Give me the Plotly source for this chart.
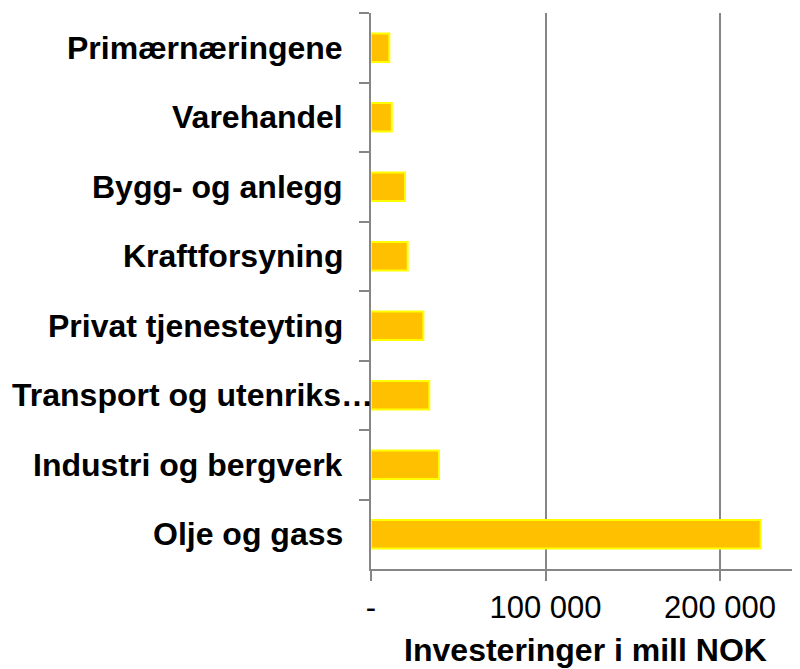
import plotly.graph_objects as go

categories = [
    "Primærnæringene",
    "Varehandel",
    "Bygg- og anlegg",
    "Kraftforsyning",
    "Privat tjenesteyting",
    "Transport og utenriks…",
    "Industri og bergverk",
    "Olje og gass",
]
values = [10500, 11900, 19500, 21000, 30000, 33400, 39000, 223300]
x_tickvals = [0, 100000, 200000]
x_ticktext = ["-", "100 000", "200 000"]
x_title = "Investeringer i mill NOK"

FONT = "Liberation Sans, Arial, sans-serif"
GRAY = "#868686"

fig = go.Figure()
fig.add_trace(go.Bar(
    y=categories,
    x=values,
    orientation="h",
    marker=dict(color="#FFC000", line=dict(color="#FFFF00", width=2)),
    width=0.41,
))

annotations = []
for c in categories:
    long = c.endswith("…")
    annotations.append(dict(
        x=0, xref="paper", y=c, yref="y",
        text="<b>%s</b>" % c, showarrow=False,
        xanchor="right", yanchor="middle",
        xshift=4 if long else -26,
        font=dict(family=FONT, size=32, color="black"),
    ))

# page body has an 8px default margin, so the figure is offset by 8px
fig.update_layout(
    width=792, height=661,
    margin=dict(l=363, r=0, t=5, b=100),
    paper_bgcolor="white", plot_bgcolor="white",
    showlegend=False,
    annotations=annotations,
    xaxis=dict(
        range=[0, 245850],
        tickvals=x_tickvals, ticktext=x_ticktext,
        showgrid=True, gridcolor=GRAY, gridwidth=2,
        zeroline=False,
        showline=True, linecolor=GRAY, linewidth=2,
        ticks="outside", ticklen=10, tickcolor=GRAY, tickwidth=2,
        tickfont=dict(family=FONT, size=31, color="black"),
        title=dict(text="<b>%s</b>" % x_title, standoff=14,
                   font=dict(family=FONT, size=32, color="black")),
    ),
    yaxis=dict(
        autorange="reversed",
        showticklabels=False,
        showgrid=False, zeroline=False,
        showline=True, linecolor=GRAY, linewidth=2,
        ticks="outside", ticklen=10, tickcolor=GRAY, tickwidth=2,
        tickson="boundaries",
    ),
)

fig.write_html("out.html")
